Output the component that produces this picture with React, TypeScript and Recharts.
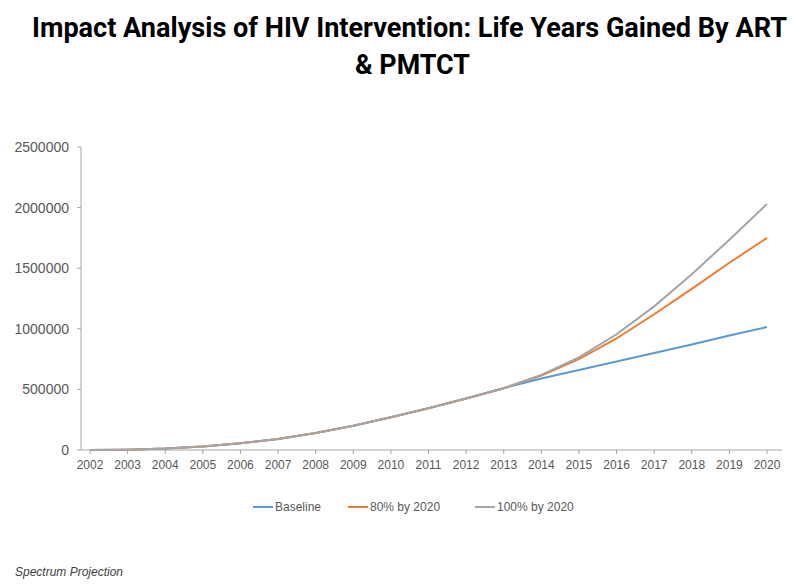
import React from "react";
import { LineChart, Line, XAxis, YAxis, Legend } from "recharts";

const years = ["2002","2003","2004","2005","2006","2007","2008","2009","2010","2011","2012","2013","2014","2015","2016","2017","2018","2019","2020"];
const baseline = [0, 3000, 12000, 28000, 55000, 90000, 140000, 200000, 270000, 345000, 425000, 510000, 590000, 660000, 730000, 800000, 870000, 945000, 1015000];
const by80 = [0, 3000, 12000, 28000, 55000, 90000, 140000, 200000, 270000, 345000, 425000, 510000, 615000, 750000, 920000, 1120000, 1330000, 1545000, 1750000];
const by100 = [0, 3000, 12000, 28000, 55000, 90000, 140000, 200000, 270000, 345000, 425000, 510000, 620000, 765000, 955000, 1185000, 1450000, 1735000, 2030000];
const yTicks = [0, 500000, 1000000, 1500000, 2000000, 2500000];
const seriesNames = ["Baseline", "80% by 2020", "100% by 2020"];
const seriesKeys = ["baseline", "by80", "by100"];
const seriesColors = ["#5B9BD5", "#ED7D31", "#A5A5A5"];
const legendItemWidths = [95, 127, 100];

const data = years.map((y, i) => ({ year: y, baseline: baseline[i], by80: by80[i], by100: by100[i] }));

const LegendContent = () => (
  <div style={{ display: "flex", paddingLeft: 253, fontFamily: "Liberation Sans, sans-serif", fontSize: 12, color: "#595959", lineHeight: "14px", whiteSpace: "nowrap" }}>
    {seriesNames.map((n, i) => (
      <div key={n} style={{ display: "flex", alignItems: "center", width: legendItemWidths[i] }}>
        <svg width={20} height={10} style={{ marginRight: 2 }}>
          <line x1={0} y1={5} x2={20} y2={5} stroke={seriesColors[i]} strokeWidth={2} />
        </svg>
        <span>{n}</span>
      </div>
    ))}
  </div>
);

export default function App() {
  return (
    <div style={{ position: "absolute", left: 0, top: 0, width: 793, height: 584, background: "#fff" }}>
      <svg width={793} height={100} style={{ position: "absolute", left: 0, top: 0 }}>
        <text x={32} y={37} textLength={755} lengthAdjust="spacingAndGlyphs" fontFamily="Liberation Sans Narrow, Roboto, sans-serif" fontWeight="bold" fontSize={27} fill="#000">
          Impact Analysis of HIV Intervention: Life Years Gained By ART
        </text>
        <text x={355} y={74} textLength={115} lengthAdjust="spacingAndGlyphs" fontFamily="Liberation Sans Narrow, Roboto, sans-serif" fontWeight="bold" fontSize={27} fill="#000">
          &amp; PMTCT
        </text>
      </svg>
      <div style={{ position: "absolute", left: 0, top: 0 }}>
        <LineChart width={793} height={584} data={data} margin={{ top: 147, right: 11, bottom: 104, left: 0 }}>
          <XAxis
            dataKey="year"
            interval={0}
            height={30}
            padding={{ left: 9, right: 15 }}
            tick={{ fill: "#595959", fontSize: 12, fontFamily: "Liberation Sans, sans-serif" }}
            tickLine={{ stroke: "#A6A6A6" }}
            tickSize={4}
            axisLine={{ stroke: "#A6A6A6" }}
            tickMargin={6}
          />
          <YAxis
            width={81}
            domain={[0, 2500000]}
            ticks={yTicks}
            interval={0}
            tick={{ fill: "#595959", fontSize: 14, fontFamily: "Liberation Sans, sans-serif" }}
            tickLine={{ stroke: "#A6A6A6" }}
            tickSize={4}
            axisLine={{ stroke: "#A6A6A6" }}
            tickMargin={8}
          />
          {seriesKeys.map((k, i) => (
            <Line key={k} type="linear" dataKey={k} name={seriesNames[i]} stroke={seriesColors[i]} strokeWidth={2} dot={false} isAnimationActive={false} />
          ))}
          <Legend verticalAlign="middle" align="center" wrapperStyle={{ top: 500, left: 0, width: 793 }} content={<LegendContent />} />
        </LineChart>
      </div>
      <div style={{ position: "absolute", left: 15, top: 565, fontFamily: "Liberation Sans, sans-serif", fontStyle: "italic", fontSize: 12, color: "#404040" }}>
        Spectrum Projection
      </div>
    </div>
  );
}
